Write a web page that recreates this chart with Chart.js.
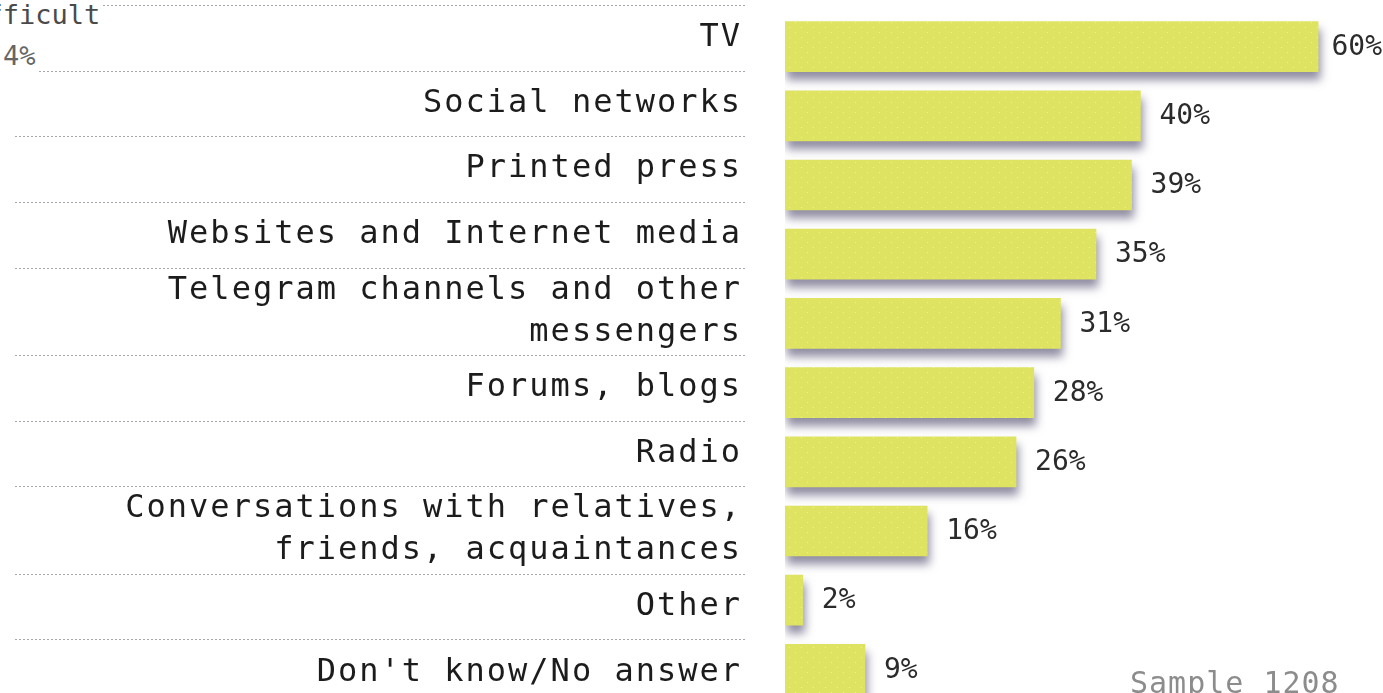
<!DOCTYPE html>
<html>
<head>
<meta charset="utf-8">
<script src="https://cdn.jsdelivr.net/npm/chart.js@4.4.1/dist/chart.umd.min.js"></script>
<style>
  html, body { margin: 0; padding: 0; background: #fff; overflow: hidden; }
  #wrap { position: relative; width: 1383px; height: 720px; }
  #chart { position: absolute; left: 0; top: 0; }
  .note { position: absolute; white-space: nowrap; font-family: "DejaVu Sans Mono", monospace; background: #fff; }
  #prev-label { left: -46px; top: 0px; font-size: 27px; line-height: 30px; color: #4a4a4a; padding-right: 2px; }
  #prev-value { left: 3px; top: 40px; font-size: 27px; line-height: 32px; color: #666; padding-right: 3px; }
  #sample { left: 1130px; top: 668px; font-size: 30px; line-height: 30px; color: #8c8c8c; letter-spacing: 1px; background: transparent; }
</style>
</head>
<body>
<div id="wrap">
  <canvas id="chart" width="1383" height="720"></canvas>
  <div class="note" id="prev-label">Difficult</div>
  <div class="note" id="prev-value">4%</div>
  <div class="note" id="sample">Sample 1208</div>
</div>
<script>
// Row labels (one entry per line of text), and the share of respondents per source, %
const LABEL_LINES = [
  ['TV'],
  ['Social networks'],
  ['Printed press'],
  ['Websites and Internet media'],
  ['Telegram channels and other', 'messengers'],
  ['Forums, blogs'],
  ['Radio'],
  ['Conversations with relatives,', 'friends, acquaintances'],
  ['Other'],
  ["Don't know/No answer"]
];
const CATEGORIES = LABEL_LINES.map(lines => lines.join(' '));
const SHARES = [60, 40, 39, 35, 31, 28, 26, 16, 2, 9];

// Label rows grow with their line count; boundaries and centres in row units
const ROW_UNITS = LABEL_LINES.map(lines => lines.length + 2);
const ROW_EDGES = [0];
ROW_UNITS.forEach(u => ROW_EDGES.push(ROW_EDGES[ROW_EDGES.length - 1] + u));
const ROW_CENTERS = ROW_UNITS.map((u, i) => ROW_EDGES[i] + u / 2);

const MONO = "'DejaVu Sans Mono', monospace";
const BAR_COLOR = 'rgb(222, 228, 98)';

// Lightly speckled fill for the bars
function speckledFill() {
  const c = document.createElement('canvas');
  c.width = 12; c.height = 10;
  const g = c.getContext('2d');
  g.fillStyle = BAR_COLOR;
  g.fillRect(0, 0, 12, 10);
  g.fillStyle = 'rgb(238, 243, 150)';
  g.fillRect(3, 2, 1, 1);
  g.fillRect(9, 7, 1, 1);
  return g.createPattern(c, 'repeat');
}

// Dotted separators between label rows, placed by the label scale
const rowSeparators = {
  id: 'rowSeparators',
  beforeDraw(chart) {
    const s = chart.scales.yLab;
    const ctx = chart.ctx;
    ctx.save();
    ctx.strokeStyle = 'rgba(150, 152, 165, 0.85)';
    ctx.lineWidth = 1;
    ctx.setLineDash([2, 2]);
    ROW_EDGES.forEach(v => {
      const y = Math.round(s.getPixelForValue(v)) + 0.5;
      ctx.beginPath();
      ctx.moveTo(s.left + 15, y);
      ctx.lineTo(s.right, y);
      ctx.stroke();
    });
    ctx.restore();
    // wider tracking for the axis labels drawn next
    ctx.letterSpacing = '2px';
  },
  beforeDatasetsDraw(chart) {
    const ctx = chart.ctx;
    ctx.letterSpacing = '0px';
    ctx.save();
    ctx.shadowColor = 'rgba(70, 65, 100, 0.6)';
    ctx.shadowBlur = 10;
    ctx.shadowOffsetX = 2;
    ctx.shadowOffsetY = 8;
  },
  afterDatasetsDraw(chart) {
    const ctx = chart.ctx;
    ctx.restore();
    // percentage next to each bar, kept inside the canvas
    ctx.save();
    ctx.font = '28px ' + MONO;
    ctx.fillStyle = '#2b2b2b';
    ctx.textBaseline = 'middle';
    ctx.textAlign = 'left';
    const meta = chart.getDatasetMeta(0);
    meta.data.forEach((bar, i) => {
      const text = SHARES[i] + '%';
      const w = ctx.measureText(text).width;
      const x = Math.min(bar.x + 19, chart.width - w - 1);
      ctx.fillText(text, x, bar.y + 1);
    });
    ctx.restore();
  }
};

// Side axes get fixed widths and no extra label padding at the ends
function fixedWidth(width) {
  return s => {
    s.width = width;
    s.paddingTop = 0;
    s.paddingBottom = 0;
  };
}

new Chart(document.getElementById('chart'), {
  type: 'bar',
  data: {
    labels: CATEGORIES,
    datasets: [{
      data: SHARES,
      xAxisID: 'x',
      yAxisID: 'yBar',
      backgroundColor: speckledFill(),
      borderWidth: 0,
      barThickness: 50
    }]
  },
  options: {
    indexAxis: 'y',
    responsive: false,
    animation: false,
    devicePixelRatio: 1,
    layout: { padding: { top: 12, bottom: 16, left: 0, right: 0 } },
    plugins: { legend: { display: false }, tooltip: { enabled: false } },
    scales: {
      x: { type: 'linear', min: 0, max: 67.3, display: false },
      yBar: {
        type: 'category',
        position: 'left',
        weight: 0,
        grid: { display: false, drawTicks: false },
        border: { display: false },
        ticks: { display: false },
        afterFit: fixedWidth(40)
      },
      yLab: {
        type: 'linear',
        position: 'left',
        weight: 1,
        reverse: true,
        offset: false,
        min: 0.32,
        max: 31.95,
        afterBuildTicks(s) { s.ticks = ROW_CENTERS.map(v => ({ value: v })); },
        afterFit: fixedWidth(745),
        grid: { display: false, drawTicks: false, offset: false },
        border: { display: false },
        ticks: {
          autoSkip: false,
          padding: 3,
          color: '#1c1c1c',
          font: { family: MONO, size: 32, lineHeight: 1.3125 },
          callback: (v, i) => LABEL_LINES[i]
        }
      }
    }
  },
  plugins: [rowSeparators]
});
</script>
</body>
</html>
